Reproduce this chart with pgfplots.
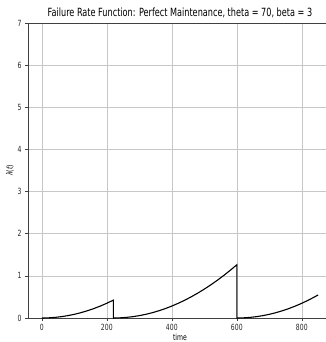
\documentclass[border=0pt]{standalone}
\usepackage{fontspec}
\setmainfont{DejaVu Sans}[FakeStretch=0.72]
\usepackage{pgfplots}
\pgfplotsset{compat=1.18}
\begin{document}
\begin{tikzpicture}[x=1pt,y=1pt]
\path[use as bounding box] (-28,-24) rectangle (297,318);
\begin{axis}[
  at={(0,0)}, anchor=south west,
  scale only axis, width=303.9pt, height=295pt,
  xmin=-42.5, xmax=892.5, ymin=0, ymax=7,
  axis x line=box, axis y line=left,
  axis line style={-, line width=0.7pt, color=black!75},
  xtick={0,200,400,600,800}, ytick={0,1,2,3,4,5,6,7},
  tick pos=left, tick align=outside,
  major tick length=3pt,
  tick style={line width=0.6pt, color=black!75},
  /pgf/number format/assume math mode=true,
  ticklabel style={font=\fontsize{8.5}{9}\selectfont, color=black!85},
  grid=major, grid style={line width=0.5pt, color=black!22},
  title={Failure Rate Function: Perfect Maintenance, theta = 70, beta = 3},
  title style={font=\fontsize{11.3}{12}\selectfont, yshift=-4pt},
  xlabel={time}, ylabel={{\itshape λ}({\itshape t})},
  xlabel style={font=\fontsize{8.5}{9}\selectfont, yshift=3.5pt},
  ylabel style={font=\fontsize{8.5}{9}\selectfont, yshift=-3pt},
]
\addplot[black, line width=1.1pt] coordinates {
(0,0) (20,0.0035) (40,0.0140) (60,0.0315) (80,0.0560) (100,0.0875) (120,0.1259)
(140,0.1714) (160,0.2239) (180,0.2834) (200,0.3499) (220,0.4233)
(220,0) (240,0.0035) (260,0.0140) (280,0.0315) (300,0.0560) (320,0.0875) (340,0.1259)
(360,0.1714) (380,0.2239) (400,0.2834) (420,0.3499) (440,0.4233) (460,0.5038)
(480,0.5913) (500,0.6857) (520,0.7872) (540,0.8956) (560,1.0111) (580,1.1335) (600,1.2630)
(600,0) (620,0.0035) (640,0.0140) (660,0.0315) (680,0.0560) (700,0.0875) (720,0.1259)
(740,0.1714) (760,0.2239) (780,0.2834) (800,0.3499) (820,0.4233) (840,0.5038) (850,0.5466)
};
\end{axis}
\end{tikzpicture}
\end{document}
